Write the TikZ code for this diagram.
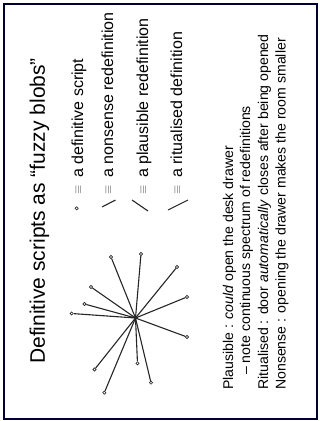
\documentclass[tikz,border=0pt]{standalone}
\usepackage{fontspec}
\setmainfont{Liberation Sans}
\begin{document}
\begin{tikzpicture}[x=1pt,y=-1pt,
  ink/.style={draw=black!85},
  spoke/.style={ink,line width=1.1pt},
  tip/.style={circle,draw=black!85,fill=white,line width=0.6pt,inner sep=0pt,minimum size=3.2pt},
  titletext/.style={rotate=90,anchor=base west,inner sep=0pt,font=\fontsize{21}{25}\selectfont},
  legtext/.style={rotate=90,anchor=base west,inner sep=0pt,font=\fontsize{16}{19}\selectfont},
  eqv/.style={rotate=90,inner sep=0pt,font=\fontsize{12}{14}\selectfont,text=black!75},
  bodytext/.style={rotate=90,anchor=base west,inner sep=0pt,font=\fontsize{14.1}{17}\selectfont}
]
\useasboundingbox (0,0) rectangle (320,421);
\draw[draw=black!80!blue,line width=1.7pt] (4,4) rectangle (317,419);

% title
\node[titletext] (title) at (45,364) {Definitive scripts as “fuzzy blobs”};

% star
\coordinate (c) at (135.5,318);
\foreach \n/\px/\py in {1/111/257,2/141/254,3/177/267,4/187/297,5/187/337,6/91/287,
  7/84.5/304,8/71.7/313.5,9/94.5/369.5,10/137.5/363.3,11/104.3/392.7,12/151/382.7}{
  \node[tip] (e\n) at (\px,\py) {};
  \draw[spoke] (c) -- (e\n);
}

% legend
\node[tip] (l1) at (76.7,208.3) {};
\coordinate (l2a) at (102,207); \coordinate (l2b) at (115.5,200);
\draw[spoke] (l2a) -- (l2b);
\coordinate (l3a) at (132,200); \coordinate (l3b) at (148,211);
\draw[spoke] (l3a) -- (l3b);
\coordinate (l4a) at (168,210); \coordinate (l4b) at (188,200);
\draw[spoke] (l4a) -- (l4b);

\node[eqv] (q1) at (78.5,189.5) {$\equiv$};
\node[eqv] (q2) at (108.5,189.5) {$\equiv$};
\node[eqv] (q3) at (143.5,189.5) {$\equiv$};
\node[eqv] (q4) at (177.5,189.5) {$\equiv$};

\node[legtext] (t1) at (83,178) {a definitive script};
\node[legtext] (t2) at (113,178) {a nonsense redefinition};
\node[legtext] (t3) at (148,178) {a plausible redefinition};
\node[legtext] (t4) at (182,178) {a ritualised definition};

% body text
\node[bodytext] (b1) at (233,390) {Plausible : \textit{could} open the desk drawer};
\node[bodytext] (b2) at (250,375) {– note continuous spectrum of redefinitions};
\node[bodytext] (b3) at (268,390) {Ritualised : door \textit{automatically} closes after being opened};
\node[bodytext] (b4) at (285.5,390) {Nonsense : opening the drawer makes the room smaller};
\end{tikzpicture}
\end{document}
